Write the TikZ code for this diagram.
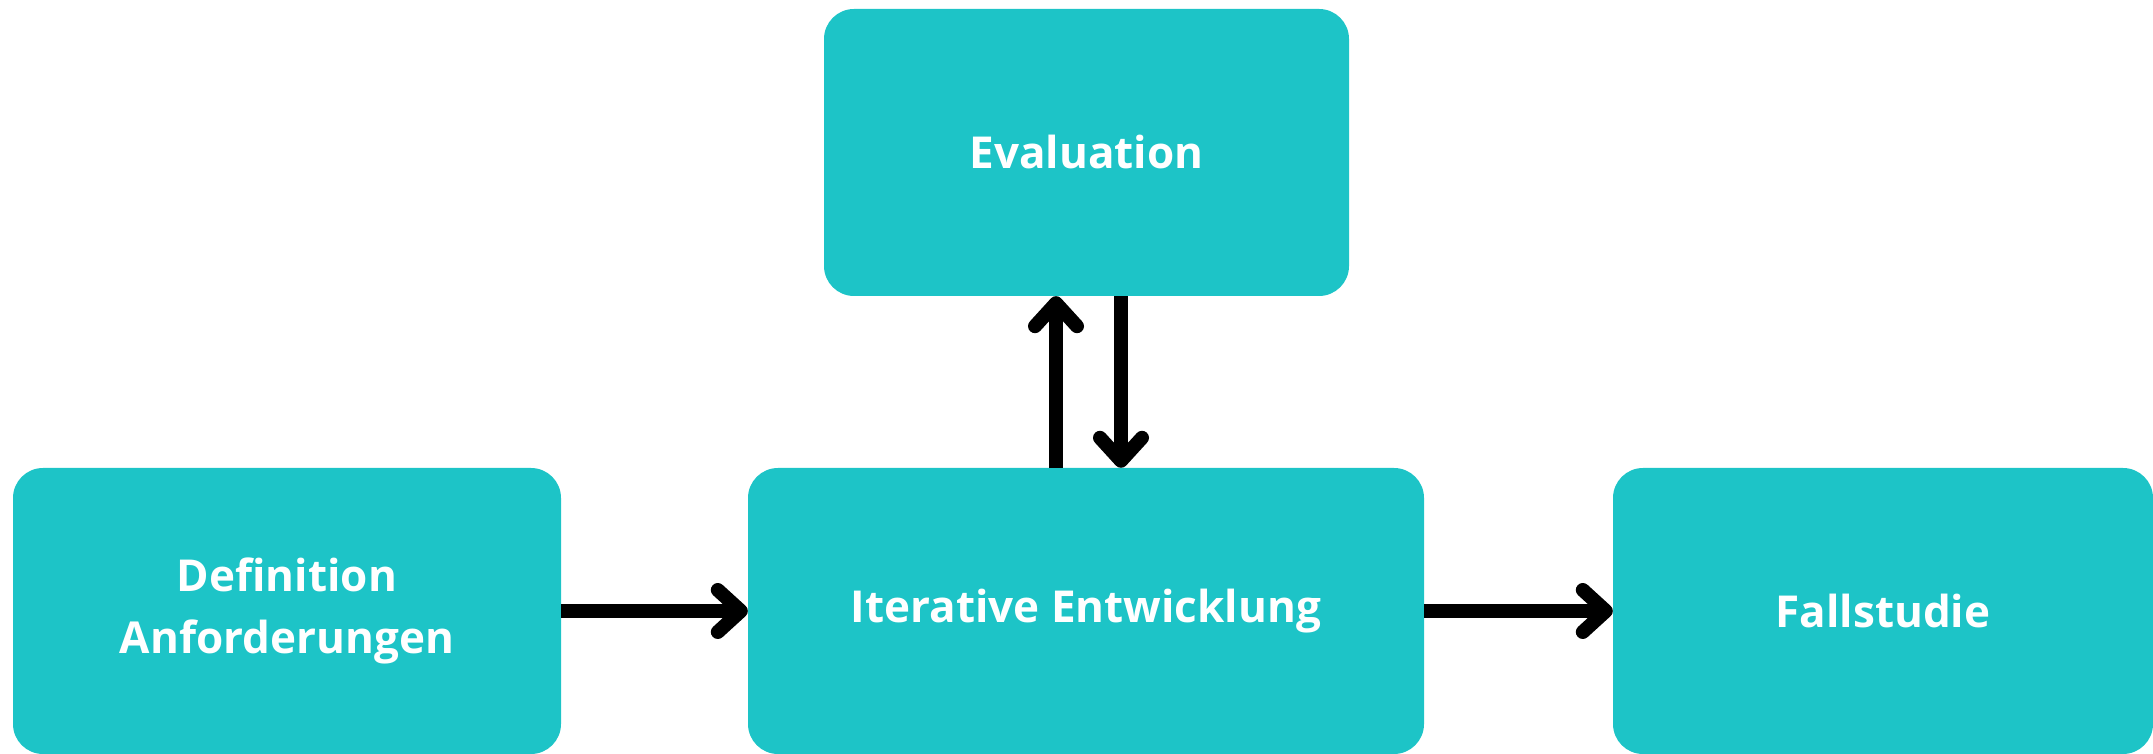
\documentclass[tikz,border=0pt]{standalone}
\usepackage{fontspec}
\setmainfont{Open Sans}
\usetikzlibrary{arrows.meta}
\definecolor{teal1}{RGB}{29,196,199}
\tikzset{
  box/.style={fill=teal1, draw=none, rounded corners=30pt, inner sep=0pt, align=center,
    text=white, font=\fontsize{44}{62}\selectfont\bfseries},
  arr/.style={line width=14pt, line cap=butt,
    -{Straight Barb[length=23pt, width=42pt, line cap=round, line join=round]}}
}
\begin{document}
\begin{tikzpicture}[x=1pt,y=1pt]
\useasboundingbox (0,0) rectangle (2153,754);
\node[box, minimum width=548pt, minimum height=286pt] (def) at (287,143) {Definition\\Anforderungen};
\node[box, minimum width=676pt, minimum height=286pt] (iter) at (1086,143) {Iterative Entwicklung};
\node[box, minimum width=540pt, minimum height=286pt] (fall) at (1883,143) {Fallstudie};
\node[box, minimum width=525pt, minimum height=287pt] (eval) at (1086.5,601.5) {Evaluation};
\draw[arr] (def.east) -- (iter.west);
\draw[arr] (iter.east) -- (fall.west);
\draw[arr] ([xshift=-30pt]iter.north) -- ([xshift=-30.5pt]eval.south);
\draw[arr] ([xshift=34.5pt]eval.south) -- ([xshift=35pt]iter.north);
\end{tikzpicture}
\end{document}
